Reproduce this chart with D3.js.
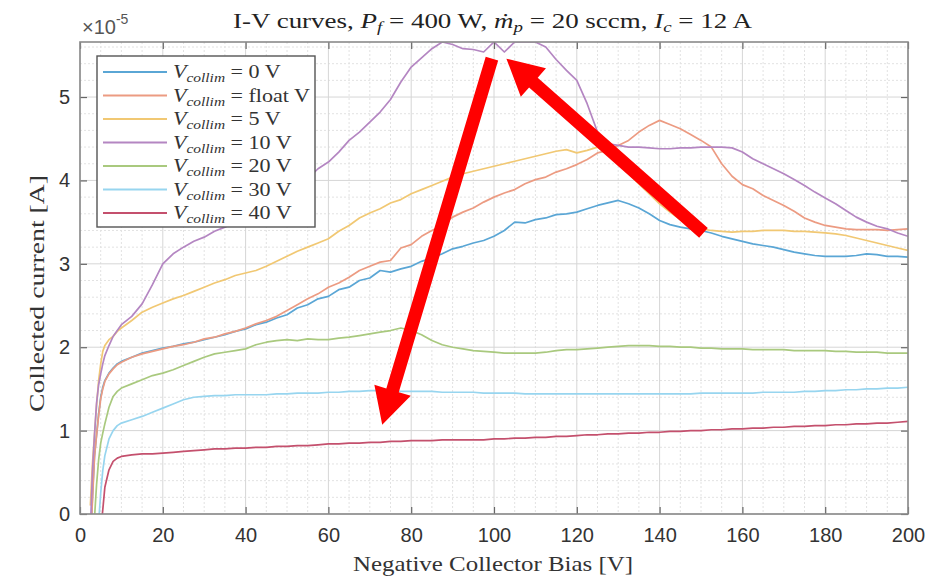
<!DOCTYPE html>
<html>
<head>
<meta charset="utf-8">
<script src="https://cdn.jsdelivr.net/npm/d3@7"></script>
<style>
  html, body { margin: 0; padding: 0; background: #fff; }
  svg { display: block; }
</style>
</head>
<body>
<svg id="chart" width="935" height="577"></svg>
<script>
// Collector bias sweep [V]
const biasV = [
  2.5, 3, 3.5, 4, 4.5, 5, 5.5, 6, 7, 8, 9, 10,
  12.5, 15, 17.5, 20, 22.5, 25, 27.5, 30, 32.5, 35, 37.5, 40,
  42.5, 45, 47.5, 50, 52.5, 55, 57.5, 60, 62.5, 65, 67.5, 70,
  72.5, 75, 77.5, 80, 82.5, 85, 87.5, 90, 92.5, 95, 97.5, 100,
  102.5, 105, 107.5, 110, 112.5, 115, 117.5, 120, 122.5, 125, 127.5, 130,
  132.5, 135, 137.5, 140, 142.5, 145, 147.5, 150, 152.5, 155, 157.5, 160,
  162.5, 165, 167.5, 170, 172.5, 175, 177.5, 180, 182.5, 185, 187.5, 190,
  192.5, 195, 197.5, 200
];

// Collected current, in units of 1e-5 A, one array per collimator voltage
const collim0V = [
  -0.4, 0.2, 0.7, 0.95, 1.2, 1.4, 1.52, 1.6, 1.69, 1.75, 1.8, 1.83,
  1.88, 1.93, 1.96, 1.99, 2.01, 2.04, 2.06, 2.09, 2.12, 2.15, 2.19, 2.22,
  2.27, 2.30, 2.35, 2.39, 2.47, 2.51, 2.58, 2.61, 2.69, 2.72, 2.80, 2.83,
  2.92, 2.90, 2.94, 2.97, 3.03, 3.07, 3.12, 3.18, 3.21, 3.25, 3.28, 3.33,
  3.40, 3.50, 3.49, 3.53, 3.55, 3.59, 3.60, 3.62, 3.66, 3.70, 3.73, 3.76,
  3.72, 3.67, 3.60, 3.52, 3.47, 3.44, 3.42, 3.40, 3.37, 3.33, 3.30, 3.27,
  3.24, 3.22, 3.20, 3.17, 3.14, 3.12, 3.10, 3.09, 3.09, 3.09, 3.10, 3.12,
  3.11, 3.09, 3.09, 3.08
];
const collimFloat = [
  -0.4, 0.15, 0.68, 0.94, 1.18, 1.38, 1.5, 1.59, 1.68, 1.74, 1.79, 1.82,
  1.88, 1.92, 1.95, 1.98, 2.01, 2.03, 2.06, 2.10, 2.12, 2.16, 2.19, 2.23,
  2.28, 2.32, 2.37, 2.44, 2.51, 2.58, 2.64, 2.72, 2.77, 2.84, 2.92, 2.97,
  3.02, 3.04, 3.19, 3.23, 3.33, 3.40, 3.46, 3.56, 3.62, 3.67, 3.74, 3.80,
  3.85, 3.89, 3.96, 4.01, 4.04, 4.10, 4.14, 4.19, 4.25, 4.33, 4.36, 4.42,
  4.48, 4.58, 4.66, 4.72, 4.67, 4.62, 4.55, 4.48, 4.40, 4.20, 4.05, 3.95,
  3.90, 3.82, 3.76, 3.70, 3.63, 3.55, 3.50, 3.46, 3.44, 3.42, 3.41, 3.41,
  3.41, 3.40, 3.41, 3.42
];
const collim5V = [
  0.1, 0.6, 0.95, 1.3, 1.6, 1.8, 1.95, 2.02, 2.09, 2.13, 2.19, 2.23,
  2.32, 2.42, 2.48, 2.53, 2.58, 2.62, 2.67, 2.72, 2.77, 2.81, 2.86, 2.89,
  2.92, 2.97, 3.03, 3.09, 3.15, 3.20, 3.25, 3.30, 3.39, 3.46, 3.55, 3.61,
  3.66, 3.73, 3.77, 3.84, 3.89, 3.94, 3.99, 4.04, 4.08, 4.11, 4.14, 4.17,
  4.20, 4.23, 4.26, 4.29, 4.32, 4.35, 4.37, 4.33, 4.36, 4.40, 4.32, 4.20,
  4.08, 3.96, 3.84, 3.72, 3.62, 3.53, 3.46, 3.42, 3.40, 3.39, 3.38, 3.39,
  3.39, 3.40, 3.40, 3.40, 3.39, 3.39, 3.38, 3.37, 3.36, 3.34, 3.31, 3.28,
  3.25, 3.22, 3.19, 3.16
];
const collim10V = [
  -0.2, 0.5, 0.95, 1.33, 1.55, 1.68, 1.8, 1.9, 2.02, 2.13, 2.2, 2.27,
  2.37, 2.52, 2.75, 3.0, 3.12, 3.2, 3.27, 3.32, 3.39, 3.44, 3.50, 3.56,
  3.63, 3.70, 3.78, 3.85, 3.93, 4.02, 4.14, 4.22, 4.34, 4.48, 4.58, 4.70,
  4.82, 4.97, 5.18, 5.36, 5.47, 5.58, 5.66, 5.63, 5.58, 5.57, 5.54, 5.66,
  5.54, 5.66, 5.66, 5.66, 5.60, 5.45, 5.32, 5.20, 4.92, 4.58, 4.44, 4.42,
  4.40, 4.40, 4.39, 4.38, 4.38, 4.39, 4.39, 4.40, 4.40, 4.40, 4.39, 4.34,
  4.26, 4.20, 4.14, 4.08, 4.01, 3.94, 3.86, 3.79, 3.72, 3.64, 3.56, 3.50,
  3.45, 3.42, 3.37, 3.33
];
const collim20V = [
  -0.8, -0.4, -0.05, 0.35, 0.65, 0.85, 0.97, 1.08, 1.28, 1.41, 1.47, 1.51,
  1.56, 1.61, 1.66, 1.69, 1.73, 1.78, 1.83, 1.88, 1.92, 1.94, 1.96, 1.98,
  2.03, 2.06, 2.08, 2.09, 2.08, 2.10, 2.09, 2.09, 2.11, 2.12, 2.14, 2.16,
  2.18, 2.20, 2.23, 2.20, 2.15, 2.08, 2.03, 2.00, 1.98, 1.96, 1.95, 1.94,
  1.93, 1.93, 1.93, 1.93, 1.94, 1.96, 1.97, 1.97, 1.98, 1.99, 2.00, 2.01,
  2.02, 2.02, 2.02, 2.01, 2.01, 2.00, 2.00, 1.99, 1.99, 1.98, 1.98, 1.98,
  1.97, 1.97, 1.97, 1.97, 1.96, 1.96, 1.96, 1.96, 1.95, 1.95, 1.94, 1.94,
  1.94, 1.93, 1.93, 1.93
];
const collim30V = [
  -1.5, -1.1, -0.8, -0.45, -0.1, 0.25, 0.52, 0.70, 0.90, 1.00, 1.06, 1.09,
  1.13, 1.17, 1.22, 1.27, 1.32, 1.37, 1.40, 1.41, 1.42, 1.42, 1.43, 1.43,
  1.43, 1.43, 1.44, 1.44, 1.45, 1.45, 1.45, 1.46, 1.46, 1.47, 1.47, 1.48,
  1.48, 1.48, 1.47, 1.47, 1.47, 1.47, 1.46, 1.46, 1.46, 1.46, 1.45, 1.45,
  1.45, 1.45, 1.44, 1.44, 1.44, 1.44, 1.44, 1.44, 1.44, 1.44, 1.44, 1.44,
  1.44, 1.44, 1.44, 1.44, 1.44, 1.44, 1.44, 1.45, 1.45, 1.45, 1.45, 1.45,
  1.45, 1.46, 1.46, 1.46, 1.46, 1.47, 1.47, 1.48, 1.48, 1.49, 1.49, 1.50,
  1.50, 1.51, 1.51, 1.52
];
const collim40V = [
  -2.0, -1.7, -1.4, -1.1, -0.8, -0.2, 0.05, 0.32, 0.53, 0.63, 0.67, 0.69,
  0.71, 0.72, 0.72, 0.73, 0.74, 0.75, 0.76, 0.77, 0.78, 0.78, 0.79, 0.79,
  0.80, 0.80, 0.81, 0.81, 0.82, 0.82, 0.83, 0.84, 0.84, 0.85, 0.85, 0.86,
  0.86, 0.87, 0.87, 0.88, 0.88, 0.88, 0.89, 0.89, 0.89, 0.89, 0.89, 0.90,
  0.90, 0.91, 0.91, 0.92, 0.92, 0.93, 0.93, 0.94, 0.95, 0.95, 0.96, 0.96,
  0.97, 0.97, 0.98, 0.98, 0.99, 0.99, 1.00, 1.00, 1.01, 1.01, 1.02, 1.02,
  1.03, 1.03, 1.04, 1.04, 1.05, 1.05, 1.06, 1.06, 1.07, 1.07, 1.08, 1.08,
  1.09, 1.09, 1.10, 1.11
];

const collimLabels = ["0", "float", "5", "10", "20", "30", "40"];
const xTickValues = [0, 20, 40, 60, 80, 100, 120, 140, 160, 180, 200];
const yTickValues = [0, 1, 2, 3, 4, 5];

// Arrow annotations: [bias, current] of tail and tip
const arrowTails = [[99.5, 5.46], [150.6, 3.37]];
const arrowTips  = [[73.0, 1.07], [103.0, 5.46]];

// ---------------------------------------------------------------
const colors = ["#5aa6d5", "#ec9b82", "#f1c873", "#b486c2", "#a9c97e", "#97d5ef", "#c4506d"];
const seriesData = [collim0V, collimFloat, collim5V, collim10V, collim20V, collim30V, collim40V];

const svg = d3.select("#chart");
const plot = { left: 80, right: 908, top: 42, bottom: 514 };

const x = d3.scaleLinear().domain([0, 200]).range([plot.left, plot.right]);
const y = d3.scaleLinear().domain([0, 5.66]).range([plot.bottom, plot.top]);

const serif = "'Liberation Serif', 'Times New Roman', serif";
const sans = "'Liberation Sans', Arial, sans-serif";

// Stretch a serif text horizontally to the wider LaTeX-like set width
function setWidth(sel, width) {
  sel.attr("textLength", width).attr("lengthAdjust", "spacingAndGlyphs");
}

// Grid: minor (dotted) then major
const gridG = svg.append("g");
const minorX = d3.range(0, 201, 5).filter(v => v % 20 !== 0);
const minorY = d3.range(0.2, 5.66, 0.2).filter(v => Math.abs(v - Math.round(v)) > 1e-6);
gridG.selectAll("line.mx").data(minorX).join("line")
  .attr("x1", d => x(d)).attr("x2", d => x(d))
  .attr("y1", plot.top).attr("y2", plot.bottom)
  .attr("stroke", "#e2e2e2").attr("stroke-width", 1).attr("stroke-dasharray", "2,2");
gridG.selectAll("line.my").data(minorY).join("line")
  .attr("x1", plot.left).attr("x2", plot.right)
  .attr("y1", d => y(d)).attr("y2", d => y(d))
  .attr("stroke", "#e2e2e2").attr("stroke-width", 1).attr("stroke-dasharray", "2,2");
gridG.selectAll("line.gx").data(xTickValues).join("line")
  .attr("x1", d => x(d)).attr("x2", d => x(d))
  .attr("y1", plot.top).attr("y2", plot.bottom)
  .attr("stroke", "#d6d6d6").attr("stroke-width", 1);
gridG.selectAll("line.gy").data(yTickValues).join("line")
  .attr("x1", plot.left).attr("x2", plot.right)
  .attr("y1", d => y(d)).attr("y2", d => y(d))
  .attr("stroke", "#d6d6d6").attr("stroke-width", 1);

// Curves
svg.append("clipPath").attr("id", "plotClip")
  .append("rect").attr("x", plot.left).attr("y", plot.top)
  .attr("width", plot.right - plot.left).attr("height", plot.bottom - plot.top);

const line = d3.line().x((d, i) => x(biasV[i])).y(d => y(d));
svg.append("g").attr("clip-path", "url(#plotClip)")
  .selectAll("path").data(seriesData).join("path")
  .attr("d", d => line(d))
  .attr("fill", "none")
  .attr("stroke", (d, i) => colors[i])
  .attr("stroke-width", 1.7)
  .attr("stroke-linejoin", "round");

// Axes with inward ticks on all four sides
const tickLen = 7;
const axisColor = "#8a8a8a";
const fmt = d3.format("d");
const xb = svg.append("g").attr("transform", `translate(0,${plot.bottom})`)
  .call(d3.axisBottom(x).tickValues(xTickValues).tickFormat(fmt).tickSizeInner(-tickLen).tickSizeOuter(0).tickPadding(14));
const xt = svg.append("g").attr("transform", `translate(0,${plot.top})`)
  .call(d3.axisTop(x).tickValues(xTickValues).tickSizeInner(-tickLen).tickSizeOuter(0).tickFormat(""));
const yl = svg.append("g").attr("transform", `translate(${plot.left},0)`)
  .call(d3.axisLeft(y).tickValues(yTickValues).tickFormat(fmt).tickSizeInner(-tickLen).tickSizeOuter(0).tickPadding(10));
const yr = svg.append("g").attr("transform", `translate(${plot.right},0)`)
  .call(d3.axisRight(y).tickValues(yTickValues).tickSizeInner(-tickLen).tickSizeOuter(0).tickFormat(""));
[xb, xt, yl, yr].forEach(g => {
  g.select(".domain").remove();
  g.selectAll(".tick line").attr("stroke", "#666").attr("stroke-width", 1.2);
  g.selectAll(".tick text").attr("fill", "#333").attr("font-family", sans).attr("font-size", 20);
});
svg.append("rect")
  .attr("x", plot.left).attr("y", plot.top)
  .attr("width", plot.right - plot.left).attr("height", plot.bottom - plot.top)
  .attr("fill", "none").attr("stroke", axisColor).attr("stroke-width", 1.6);

// Exponent label
const expo = svg.append("text").attr("x", 82).attr("y", 34)
  .attr("font-family", sans).attr("font-size", 20).attr("fill", "#555");
expo.append("tspan").text("\u00d710");
expo.append("tspan").attr("dy", -10).attr("font-size", 14).text("-5");

// Title
function mathPiece(t, sym, sub, rest) {
  t.append("tspan").attr("font-style", "italic").text(sym);
  t.append("tspan").attr("font-style", "italic").attr("font-size", "0.7em").attr("dy", 4).text(sub);
  t.append("tspan").attr("dy", -4).text(rest);
}
const title = svg.append("text").attr("x", 233).attr("y", 28)
  .attr("font-family", serif).attr("font-size", 22).attr("fill", "#222");
title.append("tspan").text("I-V curves, ");
mathPiece(title, "P", "f", " = 400 W, ");
mathPiece(title, "\u1e41", "p", " = 20 sccm, ");
mathPiece(title, "I", "c", " = 12 A");
setWidth(title, 519);

// Axis labels
const xLabel = svg.append("text").attr("x", 353).attr("y", 571)
  .attr("font-family", serif).attr("font-size", 22).attr("fill", "#333")
  .text("Negative Collector Bias [V]");
setWidth(xLabel, 280);
const yLabel = svg.append("text").attr("transform", "translate(44,412) rotate(-90)")
  .attr("font-family", serif).attr("font-size", 22).attr("fill", "#333")
  .text("Collected current [A]");
setWidth(yLabel, 237);

// Legend
const legend = svg.append("g");
legend.append("rect").attr("x", 97).attr("y", 56).attr("width", 218).attr("height", 171)
  .attr("fill", "#fff").attr("stroke", "#555").attr("stroke-width", 1.4);
const rowY = d3.scaleLinear().domain([0, 6]).range([72, 213]);
const legendTexts = [];
collimLabels.forEach((lab, i) => {
  const cy = rowY(i);
  legend.append("line").attr("x1", 103).attr("x2", 167).attr("y1", cy).attr("y2", cy)
    .attr("stroke", colors[i]).attr("stroke-width", 2);
  const t = legend.append("text").attr("x", 173).attr("y", cy + 6)
    .attr("font-family", serif).attr("font-size", 19).attr("fill", "#333");
  mathPiece(t, "V", "collim", ` = ${lab} V`);
  legendTexts.push(t);
});
// widen all legend entries by the same factor, so "float" spans its box
const floatLen = legendTexts[1].node().getComputedTextLength();
const legendStretch = 137 / floatLen;
legendTexts.forEach(t => setWidth(t, t.node().getComputedTextLength() * legendStretch));

// Arrow annotations
const shaftHalf = 6.5, headLen = 36, headHalf = 19;
arrowTails.forEach((tail, i) => {
  const p0 = [x(tail[0]), y(tail[1])];
  const p1 = [x(arrowTips[i][0]), y(arrowTips[i][1])];
  const dx = p1[0] - p0[0], dy = p1[1] - p0[1];
  const len = Math.hypot(dx, dy);
  const ux = dx / len, uy = dy / len, nx = -uy, ny = ux;
  const bx = p1[0] - ux * headLen, by = p1[1] - uy * headLen;
  const pts = [
    [p0[0] + nx * shaftHalf, p0[1] + ny * shaftHalf],
    [bx + nx * shaftHalf, by + ny * shaftHalf],
    [bx + nx * headHalf, by + ny * headHalf],
    p1,
    [bx - nx * headHalf, by - ny * headHalf],
    [bx - nx * shaftHalf, by - ny * shaftHalf],
    [p0[0] - nx * shaftHalf, p0[1] - ny * shaftHalf]
  ];
  svg.append("polygon").attr("points", pts.map(p => p.join(",")).join(" "))
    .attr("fill", "#ff0000");
});
</script>
</body>
</html>
